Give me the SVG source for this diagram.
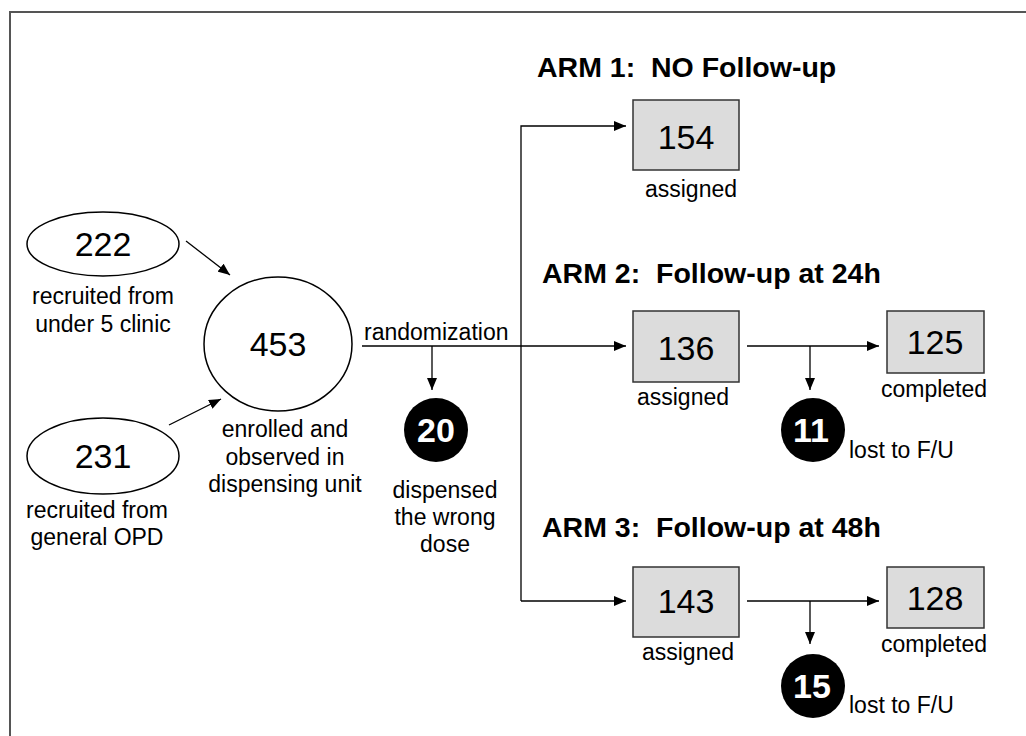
<svg xmlns="http://www.w3.org/2000/svg" width="1026" height="736" viewBox="0 0 1026 736">
<style>
text{font-family:"Liberation Sans",Arial,sans-serif;fill:#000}
.lbl{font-size:23px}
.num{font-size:34px}
.bnum{font-size:34px;font-weight:bold;fill:#fff}
.title{font-size:28.5px;font-weight:bold;white-space:pre}
.box{fill:#dcdcdc;stroke:#333;stroke-width:1.5}
.ell{fill:#fff;stroke:#000;stroke-width:1.5}
.dot{fill:#000}
.con{fill:none;stroke:#000;stroke-width:1.3}
.frame{fill:none;stroke:#555;stroke-width:2}
</style>
<defs>
<marker id="ah" viewBox="0 0 12 10" refX="12" refY="5" markerWidth="12" markerHeight="10" markerUnits="userSpaceOnUse" orient="auto">
<path d="M0,0 L12,5 L0,10 Z" fill="#000"/>
</marker>
</defs>
<rect width="1026" height="736" fill="#fff"/>
<path class="frame" d="M10,736 V12 H1026"/>

<g id="titles">
<text class="title" x="537" y="77" xml:space="preserve">ARM 1:  NO Follow-up</text>
<text class="title" x="542" y="283" xml:space="preserve">ARM 2:  Follow-up at 24h</text>
<text class="title" x="542" y="537" xml:space="preserve">ARM 3:  Follow-up at 48h</text>
</g>

<g id="n222">
<ellipse class="ell" cx="103" cy="244" rx="76" ry="32"/>
<text class="num" x="103" y="256" text-anchor="middle">222</text>
<text class="lbl" x="103" y="304" text-anchor="middle">recruited from</text>
<text class="lbl" x="103" y="332" text-anchor="middle">under 5 clinic</text>
</g>

<g id="n231">
<ellipse class="ell" cx="103" cy="456" rx="76" ry="38"/>
<text class="num" x="103" y="468" text-anchor="middle">231</text>
<text class="lbl" x="97" y="518" text-anchor="middle">recruited from</text>
<text class="lbl" x="97" y="545" text-anchor="middle">general OPD</text>
</g>

<g id="n453">
<ellipse class="ell" cx="278" cy="344" rx="74" ry="67"/>
<text class="num" x="278" y="356" text-anchor="middle">453</text>
<text class="lbl" x="285" y="437" text-anchor="middle">enrolled and</text>
<text class="lbl" x="285" y="465" text-anchor="middle">observed in</text>
<text class="lbl" x="285" y="492" text-anchor="middle">dispensing unit</text>
</g>

<g id="n20">
<circle class="dot" cx="436" cy="430" r="32"/>
<text class="bnum" x="436" y="442" text-anchor="middle">20</text>
<text class="lbl" x="445" y="498" text-anchor="middle">dispensed</text>
<text class="lbl" x="445" y="525" text-anchor="middle">the wrong</text>
<text class="lbl" x="445" y="552" text-anchor="middle">dose</text>
</g>

<g id="n154">
<rect class="box" x="633" y="100" width="106" height="70"/>
<text class="num" x="686" y="149" text-anchor="middle">154</text>
<text class="lbl" x="691" y="197" text-anchor="middle">assigned</text>
</g>

<g id="n136">
<rect class="box" x="633" y="311" width="106" height="71"/>
<text class="num" x="686" y="360" text-anchor="middle">136</text>
<text class="lbl" x="683" y="405" text-anchor="middle">assigned</text>
</g>

<g id="n125">
<rect class="box" x="887" y="311" width="97" height="62"/>
<text class="num" x="935" y="354" text-anchor="middle">125</text>
<text class="lbl" x="934" y="397" text-anchor="middle">completed</text>
</g>

<g id="n11">
<circle class="dot" cx="813" cy="430" r="32"/>
<text class="bnum" x="811" y="442" text-anchor="middle">11</text>
<text class="lbl" x="849" y="458">lost to F/U</text>
</g>

<g id="n143">
<rect class="box" x="633" y="567" width="106" height="70"/>
<text class="num" x="686" y="613" text-anchor="middle">143</text>
<text class="lbl" x="688" y="660" text-anchor="middle">assigned</text>
</g>

<g id="n128">
<rect class="box" x="887" y="567" width="97" height="61"/>
<text class="num" x="935" y="610" text-anchor="middle">128</text>
<text class="lbl" x="934" y="652" text-anchor="middle">completed</text>
</g>

<g id="n15">
<circle class="dot" cx="813" cy="686" r="32"/>
<text class="bnum" x="812" y="698" text-anchor="middle">15</text>
<text class="lbl" x="849" y="713">lost to F/U</text>
</g>

<g id="connectors">
<line class="con" x1="186" y1="241" x2="230" y2="275" marker-end="url(#ah)"/>
<line class="con" x1="169" y1="425" x2="221" y2="399" marker-end="url(#ah)"/>
<line class="con" x1="362" y1="346" x2="626" y2="346" marker-end="url(#ah)"/>
<line class="con" x1="432" y1="346" x2="432" y2="390" marker-end="url(#ah)"/>
<polyline class="con" points="521,601 521,126 626,126" marker-end="url(#ah)"/>
<line class="con" x1="521" y1="601" x2="626" y2="601" marker-end="url(#ah)"/>
<line class="con" x1="747" y1="346" x2="879" y2="346" marker-end="url(#ah)"/>
<line class="con" x1="810" y1="346" x2="810" y2="390" marker-end="url(#ah)"/>
<line class="con" x1="747" y1="601" x2="879" y2="601" marker-end="url(#ah)"/>
<line class="con" x1="810" y1="601" x2="810" y2="644" marker-end="url(#ah)"/>
<text class="lbl" x="364" y="340">randomization</text>
</g>
</svg>
